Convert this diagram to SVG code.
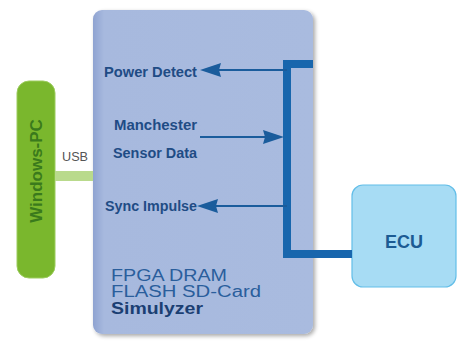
<svg xmlns="http://www.w3.org/2000/svg" width="467" height="344" viewBox="0 0 467 344">
<defs>
<linearGradient id="sim" x1="0" y1="0" x2="1" y2="0">
<stop offset="0" stop-color="#8fa3d1"/>
<stop offset="0.05" stop-color="#a7b9de"/>
<stop offset="1" stop-color="#a9bbdf"/>
</linearGradient>
<filter id="sh" x="-5%" y="-5%" width="115%" height="115%">
<feGaussianBlur in="SourceAlpha" stdDeviation="2"/>
<feOffset dx="2" dy="2"/>
<feComponentTransfer><feFuncA type="linear" slope="0.35"/></feComponentTransfer>
<feMerge><feMergeNode/><feMergeNode in="SourceGraphic"/></feMerge>
</filter>
<path id="head" d="M0,0 L21,-7 L19,0 L21,7 Z"/>
</defs>
<style>
.lbl{font-family:"Liberation Sans",Arial,sans-serif;font-size:14.5px;font-weight:bold;fill:#1f4c85}
.chip{font-family:"Liberation Sans",Arial,sans-serif;font-size:16px;fill:#2a5e9c}
.arr{stroke:#1a5c9c;stroke-width:2;fill:none}
.ahd{fill:#1a5c9c}
.bus{stroke:#1866ad;stroke-width:8;fill:none}
</style>
<rect width="467" height="344" fill="#ffffff"/>
<g id="simulyzer">
<rect x="93" y="10" width="220" height="324" rx="9" fill="url(#sim)" filter="url(#sh)"/>
<text class="lbl" x="104" y="77" textLength="93" lengthAdjust="spacingAndGlyphs">Power Detect</text>
<text class="lbl" x="114" y="130" textLength="83" lengthAdjust="spacingAndGlyphs">Manchester</text>
<text class="lbl" x="113" y="158" textLength="84" lengthAdjust="spacingAndGlyphs">Sensor Data</text>
<text class="lbl" x="105" y="211" textLength="92" lengthAdjust="spacingAndGlyphs">Sync Impulse</text>
<text class="chip" x="111" y="281" textLength="116" lengthAdjust="spacingAndGlyphs">FPGA DRAM</text>
<text class="chip" x="111" y="297" textLength="150" lengthAdjust="spacingAndGlyphs">FLASH SD-Card</text>
<text class="chip" x="111" y="314" font-weight="bold" style="fill:#1b3f73" textLength="92" lengthAdjust="spacingAndGlyphs">Simulyzer</text>
</g>
<g id="windows-pc">
<rect x="17" y="81" width="38" height="197" rx="12" fill="#7ab72d" stroke="#9ccc5e" stroke-width="1"/>
<text x="0" y="0" transform="translate(42,171) rotate(-90)" text-anchor="middle" font-family="'Liberation Sans',Arial,sans-serif" font-size="17" font-weight="bold" fill="#3a7a1c">Windows-PC</text>
</g>
<g id="ecu">
<rect x="352" y="185" width="104" height="102" rx="11" fill="#a7dcf4" stroke="#63bee8" stroke-width="1.2"/>
<text x="404" y="248" text-anchor="middle" font-family="'Liberation Sans',Arial,sans-serif" font-size="18" font-weight="bold" fill="#1c5b93">ECU</text>
</g>
<g id="connectors">
<rect x="55" y="171" width="38" height="10" fill="#b9da8c"/>
<text x="62" y="161" font-family="'Liberation Sans',Arial,sans-serif" font-size="13" fill="#555555" textLength="26" lengthAdjust="spacingAndGlyphs">USB</text>
<path class="bus" d="M313,64 H287 V254 H352"/>
<line class="arr" x1="287" y1="70" x2="216" y2="70"/>
<use href="#head" class="ahd" transform="translate(200,70)"/>
<line class="arr" x1="200" y1="137" x2="268" y2="137"/>
<use href="#head" class="ahd" transform="translate(284,137) rotate(180)"/>
<line class="arr" x1="287" y1="206" x2="213" y2="206"/>
<use href="#head" class="ahd" transform="translate(197,206)"/>
</g>
</svg>
